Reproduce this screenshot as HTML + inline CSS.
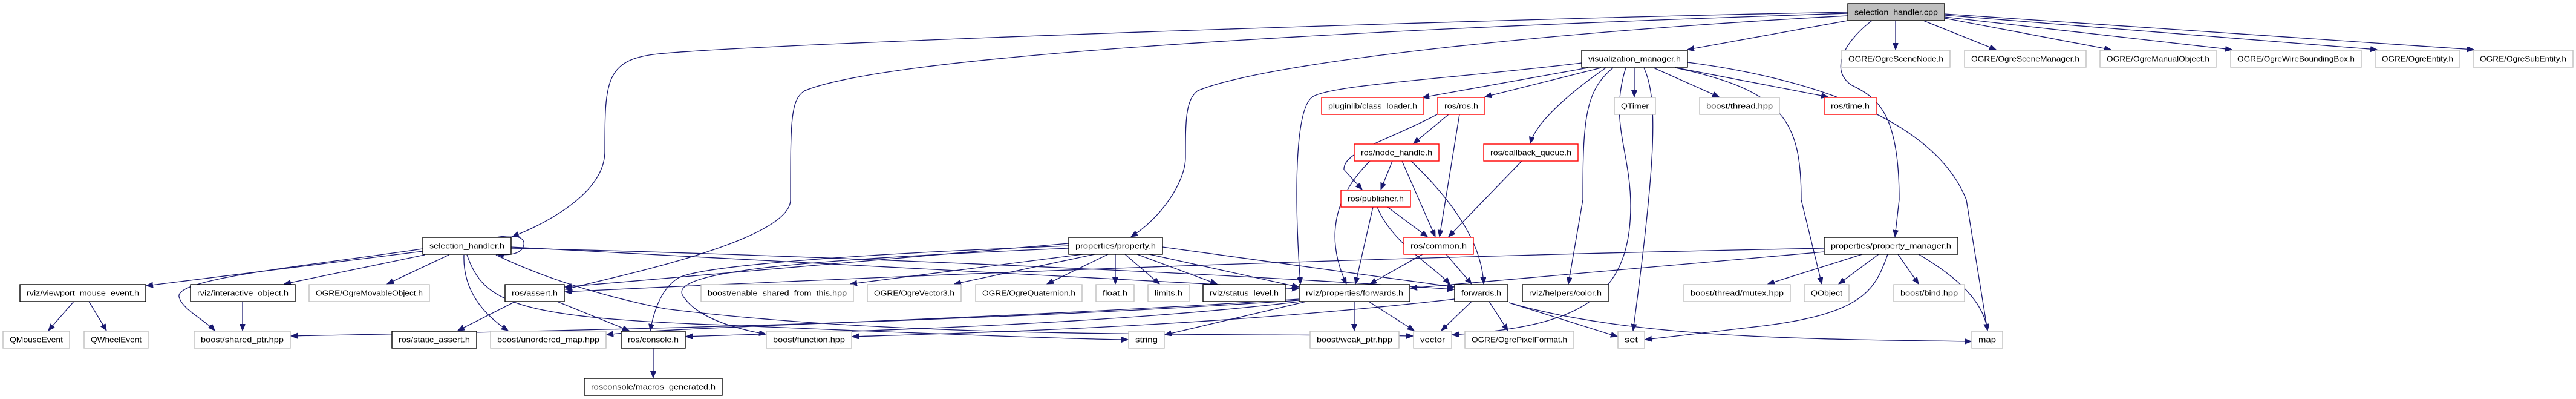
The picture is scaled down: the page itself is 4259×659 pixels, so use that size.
<!DOCTYPE html>
<html><head><meta charset="utf-8"><style>
html,body{margin:0;padding:0;background:#fff;}
svg{display:block;}
text{font-family:"Liberation Sans",sans-serif;font-size:12.5px;fill:#000;}
.e{fill:none;stroke:#191970;stroke-width:1.3;marker-end:url(#a);}
.b{fill:#fff;stroke:#000;stroke-width:1.4;}
.g{fill:#fff;stroke:#bfbfbf;stroke-width:1.4;}
.r{fill:#fff;stroke:#ff0000;stroke-width:1.4;}
.root{fill:#bfbfbf;stroke:#000;stroke-width:1.4;}
</style></head><body>
<svg width="4259" height="659" viewBox="0 0 4259 659" xmlns="http://www.w3.org/2000/svg">
<defs><marker id="a" markerUnits="userSpaceOnUse" markerWidth="12" markerHeight="10" refX="11" refY="4.5" orient="auto"><path d="M0,0 L11,4.5 L0,9 z" fill="#191970" stroke="#191970"/></marker></defs>
<g id="edges">
<path class="e" d="M3055,20 C2500,30 1300,70 1100,88 C1000,95 1000,130 1000,250 C1000,320 900,370 847,391"/>
<path class="e" d="M3055,22 C2500,40 1500,80 1330,150 C1307,165 1307,200 1307,330 C1307,400 1000,460 935,478"/>
<path class="e" d="M3055,26 C2600,50 2100,100 1980,150 C1960,165 1960,200 1960,260 C1960,300 1920,360 1870,391"/>
<path class="e" d="M3055,34 L2790,82"/>
<path class="e" d="M3134,34 L3134,82"/>
<path class="e" d="M3180,34 L3300,82"/>
<path class="e" d="M3215,30 L3490,82"/>
<path class="e" d="M3215,28 L3690,82"/>
<path class="e" d="M3215,25 L3930,82"/>
<path class="e" d="M3215,23 L4090,82"/>
<path class="e" d="M3095,34 C3060,60 3020,110 3060,140 C3100,160 3140,180 3140,330 L3133,391"/>
<path class="e" d="M2625,112 L2352,161"/>
<path class="e" d="M2647,112 L2455,160"/>
<path class="e" d="M2702,112 L2702,160"/>
<path class="e" d="M2734,112 L2842,160"/>
<path class="e" d="M2772,112 L3022,160"/>
<path class="e" d="M2655,112 C2600,150 2540,200 2530,237"/>
<path class="e" d="M2615,104 C2400,130 2200,140 2170,160 C2140,180 2140,330 2150,469"/>
<path class="e" d="M2667,112 C2620,150 2617,200 2617,330 L2593,469"/>
<path class="e" d="M2688,112 C2660,200 2696,250 2696,340 C2696,500 2600,540 2401,553"/>
<path class="e" d="M2718,112 C2740,160 2740,250 2700,546"/>
<path class="e" d="M2770,112 C2950,150 2978,200 2978,330 L3012,469"/>
<path class="e" d="M2790,103 C3000,130 3200,200 3251,330 L3286,546"/>
<path class="e" d="M2395,189 L2337,237"/>
<path class="e" d="M2376,189 C2300,230 2220,250 2222,280 L2252,313"/>
<path class="e" d="M2413,189 L2380,391"/>
<path class="e" d="M2302,266 L2283,313"/>
<path class="e" d="M2318,266 L2373,391"/>
<path class="e" d="M2333,266 C2400,330 2450,400 2453,469"/>
<path class="e" d="M2265,266 C2200,330 2194,400 2226,469"/>
<path class="e" d="M2516,266 L2395,391"/>
<path class="e" d="M2294,342 L2360,391"/>
<path class="e" d="M2270,342 L2241,469"/>
<path class="e" d="M2277,342 C2300,400 2370,440 2397,469"/>
<path class="e" d="M2352,420 L2265,469"/>
<path class="e" d="M2391,420 L2433,469"/>
<path class="e" d="M2239,498 L2239,546"/>
<path class="e" d="M2263,498 L2338,546"/>
<path class="e" d="M2433,498 L2383,546"/>
<path class="e" d="M2462,498 L2493,546"/>
<path class="e" d="M2495,500 L2674,556"/>
<path class="e" d="M2495,500 C2700,560 3000,560 3259,564"/>
<path class="e" d="M3079,420 L2923,469"/>
<path class="e" d="M3106,420 L3040,469"/>
<path class="e" d="M3138,420 L3172,469"/>
<path class="e" d="M3172,420 C3240,460 3280,500 3286,546"/>
<path class="e" d="M3121,420 C3100,480 3080,520 2900,540 L2720,561"/>
<path class="e" d="M3016,416 L2332,476"/>
<path class="e" d="M3016,410 C2500,420 1800,440 934,482"/>
<path class="e" d="M852,498 L757,546"/>
<path class="e" d="M921,498 L1040,546"/>
<path class="e" d="M1080,575 L1080,624"/>
<path class="e" d="M122,498 L80,546"/>
<path class="e" d="M147,498 L176,546"/>
<path class="e" d="M401,498 L401,546"/>
<path class="e" d="M699,415 L242,472"/>
<path class="e" d="M699,411 C500,440 290,460 296,490 C300,510 340,530 355,546"/>
<path class="e" d="M702,421 L470,469"/>
<path class="e" d="M742,421 L640,469"/>
<path class="e" d="M767,421 C765,480 800,520 840,546"/>
<path class="e" d="M820,392 C860,385 870,395 865,408 C860,420 840,422 822,420"/>
<path class="e" d="M772,421 C800,500 850,525 1200,537 C1500,550 1800,561 1865,561"/>
<path class="e" d="M820,421 C900,460 1000,490 1100,510 C1500,560 2000,550 2336,555"/>
<path class="e" d="M845,408 L2147,477"/>
<path class="e" d="M845,410 C1300,420 2000,450 2404,478"/>
<path class="e" d="M1790,420 L1406,469"/>
<path class="e" d="M1810,420 L1578,469"/>
<path class="e" d="M1832,420 L1731,469"/>
<path class="e" d="M1844,420 L1844,469"/>
<path class="e" d="M1860,420 L1917,469"/>
<path class="e" d="M1880,420 L2012,469"/>
<path class="e" d="M1900,420 L2147,474"/>
<path class="e" d="M1922,408 L2404,474"/>
<path class="e" d="M1767,406 C1400,420 1150,440 1120,460 C1090,480 1080,520 1075,546"/>
<path class="e" d="M1767,410 C1300,430 1100,450 1130,490 C1150,520 1200,540 1266,552"/>
<path class="e" d="M1767,402 L934,474"/>
<path class="e" d="M2160,498 L1926,553"/>
<path class="e" d="M2148,494 C1600,530 1100,540 1003,553"/>
<path class="e" d="M2148,496 C1500,540 700,550 481,555"/>
<path class="e" d="M2405,494 C2000,540 1600,550 1409,556"/>
<path class="e" d="M2150,498 C1800,540 1300,550 1134,556"/>
</g>
<g id="nodes">
<rect class="root" x="3055" y="6" width="160" height="28"/><text x="3135" y="24.5" text-anchor="middle" textLength="138" lengthAdjust="spacingAndGlyphs">selection_handler.cpp</text>
<rect class="b" x="2615" y="83" width="175" height="28"/><text x="2702.5" y="101.5" text-anchor="middle" textLength="153" lengthAdjust="spacingAndGlyphs">visualization_manager.h</text>
<rect class="g" x="3045" y="83" width="179" height="28"/><text x="3134.5" y="101.5" text-anchor="middle" textLength="157" lengthAdjust="spacingAndGlyphs">OGRE/OgreSceneNode.h</text>
<rect class="g" x="3248" y="83" width="201" height="28"/><text x="3348.5" y="101.5" text-anchor="middle" textLength="179" lengthAdjust="spacingAndGlyphs">OGRE/OgreSceneManager.h</text>
<rect class="g" x="3472" y="83" width="192" height="28"/><text x="3568" y="101.5" text-anchor="middle" textLength="170" lengthAdjust="spacingAndGlyphs">OGRE/OgreManualObject.h</text>
<rect class="g" x="3688" y="83" width="216" height="28"/><text x="3796" y="101.5" text-anchor="middle" textLength="194" lengthAdjust="spacingAndGlyphs">OGRE/OgreWireBoundingBox.h</text>
<rect class="g" x="3927" y="83" width="140" height="28"/><text x="3997" y="101.5" text-anchor="middle" textLength="118" lengthAdjust="spacingAndGlyphs">OGRE/OgreEntity.h</text>
<rect class="g" x="4089" y="83" width="165" height="28"/><text x="4171.5" y="101.5" text-anchor="middle" textLength="143" lengthAdjust="spacingAndGlyphs">OGRE/OgreSubEntity.h</text>
<rect class="r" x="2185" y="161" width="169" height="28"/><text x="2269.5" y="179.5" text-anchor="middle" textLength="147" lengthAdjust="spacingAndGlyphs">pluginlib/class_loader.h</text>
<rect class="r" x="2377" y="161" width="78" height="28"/><text x="2416" y="179.5" text-anchor="middle" textLength="56" lengthAdjust="spacingAndGlyphs">ros/ros.h</text>
<rect class="g" x="2669" y="161" width="68" height="28"/><text x="2703" y="179.5" text-anchor="middle" textLength="46" lengthAdjust="spacingAndGlyphs">QTimer</text>
<rect class="g" x="2810" y="161" width="132" height="28"/><text x="2876" y="179.5" text-anchor="middle" textLength="110" lengthAdjust="spacingAndGlyphs">boost/thread.hpp</text>
<rect class="r" x="3016" y="161" width="86" height="28"/><text x="3059" y="179.5" text-anchor="middle" textLength="64" lengthAdjust="spacingAndGlyphs">ros/time.h</text>
<rect class="r" x="2239" y="238" width="140" height="28"/><text x="2309" y="256.5" text-anchor="middle" textLength="118" lengthAdjust="spacingAndGlyphs">ros/node_handle.h</text>
<rect class="r" x="2453" y="238" width="156" height="28"/><text x="2531" y="256.5" text-anchor="middle" textLength="134" lengthAdjust="spacingAndGlyphs">ros/callback_queue.h</text>
<rect class="r" x="2217" y="314" width="115" height="28"/><text x="2274.5" y="332.5" text-anchor="middle" textLength="93" lengthAdjust="spacingAndGlyphs">ros/publisher.h</text>
<rect class="b" x="699" y="392" width="146" height="28"/><text x="772" y="410.5" text-anchor="middle" textLength="124" lengthAdjust="spacingAndGlyphs">selection_handler.h</text>
<rect class="b" x="1767" y="392" width="155" height="28"/><text x="1844.5" y="410.5" text-anchor="middle" textLength="133" lengthAdjust="spacingAndGlyphs">properties/property.h</text>
<rect class="r" x="2321" y="392" width="115" height="28"/><text x="2378.5" y="410.5" text-anchor="middle" textLength="93" lengthAdjust="spacingAndGlyphs">ros/common.h</text>
<rect class="b" x="3016" y="392" width="221" height="28"/><text x="3126.5" y="410.5" text-anchor="middle" textLength="199" lengthAdjust="spacingAndGlyphs">properties/property_manager.h</text>
<rect class="b" x="33" y="470" width="208" height="28"/><text x="137" y="488.5" text-anchor="middle" textLength="186" lengthAdjust="spacingAndGlyphs">rviz/viewport_mouse_event.h</text>
<rect class="b" x="315" y="470" width="173" height="28"/><text x="401.5" y="488.5" text-anchor="middle" textLength="151" lengthAdjust="spacingAndGlyphs">rviz/interactive_object.h</text>
<rect class="g" x="511" y="470" width="199" height="28"/><text x="610.5" y="488.5" text-anchor="middle" textLength="177" lengthAdjust="spacingAndGlyphs">OGRE/OgreMovableObject.h</text>
<rect class="b" x="835" y="470" width="98" height="28"/><text x="884" y="488.5" text-anchor="middle" textLength="76" lengthAdjust="spacingAndGlyphs">ros/assert.h</text>
<rect class="g" x="1159" y="470" width="252" height="28"/><text x="1285" y="488.5" text-anchor="middle" textLength="230" lengthAdjust="spacingAndGlyphs">boost/enable_shared_from_this.hpp</text>
<rect class="g" x="1434" y="470" width="155" height="28"/><text x="1511.5" y="488.5" text-anchor="middle" textLength="133" lengthAdjust="spacingAndGlyphs">OGRE/OgreVector3.h</text>
<rect class="g" x="1613" y="470" width="176" height="28"/><text x="1701" y="488.5" text-anchor="middle" textLength="154" lengthAdjust="spacingAndGlyphs">OGRE/OgreQuaternion.h</text>
<rect class="g" x="1812" y="470" width="63" height="28"/><text x="1843.5" y="488.5" text-anchor="middle" textLength="41" lengthAdjust="spacingAndGlyphs">float.h</text>
<rect class="g" x="1898" y="470" width="68" height="28"/><text x="1932" y="488.5" text-anchor="middle" textLength="46" lengthAdjust="spacingAndGlyphs">limits.h</text>
<rect class="b" x="1989" y="470" width="136" height="28"/><text x="2057" y="488.5" text-anchor="middle" textLength="114" lengthAdjust="spacingAndGlyphs">rviz/status_level.h</text>
<rect class="b" x="2148" y="470" width="183" height="28"/><text x="2239.5" y="488.5" text-anchor="middle" textLength="161" lengthAdjust="spacingAndGlyphs">rviz/properties/forwards.h</text>
<rect class="b" x="2405" y="470" width="88" height="28"/><text x="2449" y="488.5" text-anchor="middle" textLength="66" lengthAdjust="spacingAndGlyphs">forwards.h</text>
<rect class="b" x="2517" y="470" width="142" height="28"/><text x="2588" y="488.5" text-anchor="middle" textLength="120" lengthAdjust="spacingAndGlyphs">rviz/helpers/color.h</text>
<rect class="g" x="2784" y="470" width="176" height="28"/><text x="2872" y="488.5" text-anchor="middle" textLength="154" lengthAdjust="spacingAndGlyphs">boost/thread/mutex.hpp</text>
<rect class="g" x="2983" y="470" width="74" height="28"/><text x="3020" y="488.5" text-anchor="middle" textLength="52" lengthAdjust="spacingAndGlyphs">QObject</text>
<rect class="g" x="3131" y="470" width="117" height="28"/><text x="3189.5" y="488.5" text-anchor="middle" textLength="95" lengthAdjust="spacingAndGlyphs">boost/bind.hpp</text>
<rect class="g" x="5" y="547" width="110" height="28"/><text x="60" y="565.5" text-anchor="middle" textLength="88" lengthAdjust="spacingAndGlyphs">QMouseEvent</text>
<rect class="g" x="139" y="547" width="106" height="28"/><text x="192" y="565.5" text-anchor="middle" textLength="84" lengthAdjust="spacingAndGlyphs">QWheelEvent</text>
<rect class="g" x="321" y="547" width="159" height="28"/><text x="400.5" y="565.5" text-anchor="middle" textLength="137" lengthAdjust="spacingAndGlyphs">boost/shared_ptr.hpp</text>
<rect class="b" x="648" y="547" width="140" height="28"/><text x="718" y="565.5" text-anchor="middle" textLength="118" lengthAdjust="spacingAndGlyphs">ros/static_assert.h</text>
<rect class="g" x="811" y="547" width="191" height="28"/><text x="906.5" y="565.5" text-anchor="middle" textLength="169" lengthAdjust="spacingAndGlyphs">boost/unordered_map.hpp</text>
<rect class="b" x="1027" y="547" width="106" height="28"/><text x="1080" y="565.5" text-anchor="middle" textLength="84" lengthAdjust="spacingAndGlyphs">ros/console.h</text>
<rect class="g" x="1267" y="547" width="141" height="28"/><text x="1337.5" y="565.5" text-anchor="middle" textLength="119" lengthAdjust="spacingAndGlyphs">boost/function.hpp</text>
<rect class="g" x="1866" y="547" width="59" height="28"/><text x="1895.5" y="565.5" text-anchor="middle" textLength="37" lengthAdjust="spacingAndGlyphs">string</text>
<rect class="g" x="2166" y="547" width="147" height="28"/><text x="2239.5" y="565.5" text-anchor="middle" textLength="125" lengthAdjust="spacingAndGlyphs">boost/weak_ptr.hpp</text>
<rect class="g" x="2337" y="547" width="63" height="28"/><text x="2368.5" y="565.5" text-anchor="middle" textLength="41" lengthAdjust="spacingAndGlyphs">vector</text>
<rect class="g" x="2422" y="547" width="180" height="28"/><text x="2512" y="565.5" text-anchor="middle" textLength="158" lengthAdjust="spacingAndGlyphs">OGRE/OgrePixelFormat.h</text>
<rect class="g" x="2675" y="547" width="44" height="28"/><text x="2697" y="565.5" text-anchor="middle" textLength="22" lengthAdjust="spacingAndGlyphs">set</text>
<rect class="g" x="3260" y="547" width="51" height="28"/><text x="3285.5" y="565.5" text-anchor="middle" textLength="29" lengthAdjust="spacingAndGlyphs">map</text>
<rect class="b" x="966" y="625" width="228" height="28"/><text x="1080" y="643.5" text-anchor="middle" textLength="206" lengthAdjust="spacingAndGlyphs">rosconsole/macros_generated.h</text>
</g>
</svg>
</body></html>
